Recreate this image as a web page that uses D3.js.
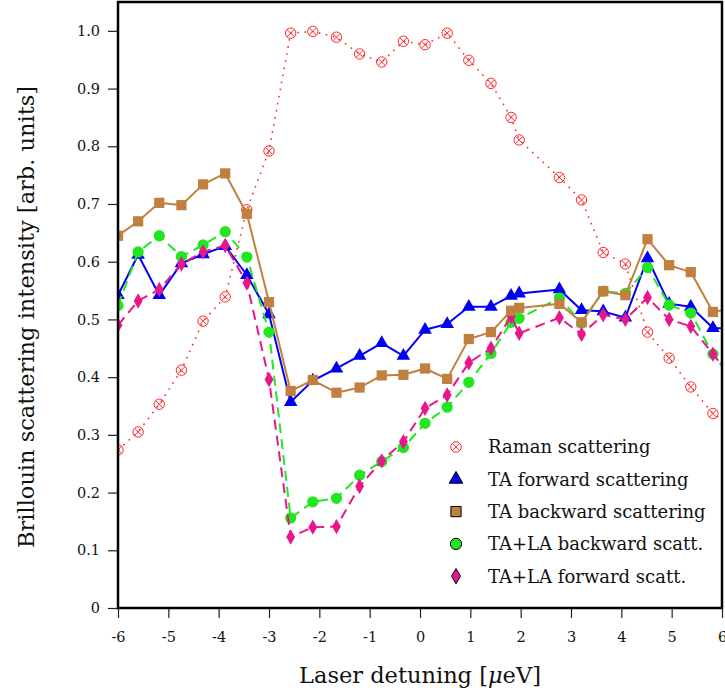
<!DOCTYPE html>
<html>
<head>
<meta charset="utf-8">
<script src="https://cdn.jsdelivr.net/npm/d3@7"></script>
<style>
  body { margin: 0; background: #fff; }
  svg { display: block; font-family: "DejaVu Serif", serif; }
</style>
</head>
<body>
<div id="vis-container"></div>
<script>
// laser detuning (ueV) for each measured point
var detuning = [-6.0, -5.6, -5.18, -4.74, -4.31, -3.87, -3.44, -3.0, -2.57, -2.13,
  -1.66, -1.2, -0.76, -0.33, 0.1, 0.54, 0.97, 1.41, 1.81, 1.97,
  2.77, 3.21, 3.64, 4.08, 4.52, 4.95, 5.38, 5.82, 6.25];

var raman = [0.274, 0.305, 0.353, 0.412, 0.497, 0.539, 0.690, 0.792, 0.996, 0.999,
  0.989, 0.960, 0.946, 0.982, 0.976, 0.996, 0.949, 0.909, 0.850, 0.811,
  0.746, 0.707, 0.616, 0.596, 0.478, 0.433, 0.383, 0.337, 0.31];

var taForward = [0.542, 0.612, 0.542, 0.597, 0.613, 0.627, 0.577, 0.509, 0.357, 0.394,
  0.415, 0.437, 0.459, 0.437, 0.482, 0.492, 0.522, 0.522, 0.541, 0.545,
  0.552, 0.516, 0.514, 0.503, 0.606, 0.527, 0.522, 0.485, 0.484];

var taBackward = [0.645, 0.670, 0.702, 0.698, 0.734, 0.753, 0.683, 0.530, 0.376, 0.395,
  0.373, 0.382, 0.403, 0.404, 0.415, 0.397, 0.466, 0.478, 0.515, 0.520,
  0.527, 0.495, 0.549, 0.542, 0.639, 0.594, 0.582, 0.513, 0.52];

var talaBackward = [0.524, 0.617, 0.645, 0.609, 0.629, 0.652, 0.608, 0.478, 0.156, 0.184,
  0.190, 0.230, 0.254, 0.278, 0.320, 0.348, 0.391, 0.441, 0.495, 0.502,
  0.537, 0.494, 0.549, 0.545, 0.590, 0.525, 0.511, 0.440, 0.39];

var talaForward = [0.490, 0.532, 0.552, 0.596, 0.617, 0.628, 0.563, 0.396, 0.123, 0.140,
  0.141, 0.211, 0.255, 0.288, 0.346, 0.369, 0.425, 0.450, 0.505, 0.476,
  0.503, 0.474, 0.508, 0.500, 0.538, 0.500, 0.488, 0.440, 0.393];

var xTicks = [-6, -5, -4, -3, -2, -1, 0, 1, 2, 3, 4, 5, 6];
var yTicks = [0, 0.1, 0.2, 0.3, 0.4, 0.5, 0.6, 0.7, 0.8, 0.9, 1.0];

// drawing order: raman, blue, green, pink, brown (brown sits on top)
var series = [
  { name: "Raman scattering", values: raman, color: "#ff2a2a", dash: "1.6 5.6", width: 1.6, marker: "otimes", legend: 0 },
  { name: "TA forward scattering", values: taForward, color: "#0000f5", dash: null, width: 2, marker: "triangle", legend: 1 },
  { name: "TA+LA backward scatt.", values: talaBackward, color: "#22e622", dash: "10 6", width: 2, marker: "circle", legend: 3 },
  { name: "TA+LA forward scatt.", values: talaForward, color: "#e8168c", dash: "10 6", width: 2, marker: "diamond", legend: 4 },
  { name: "TA backward scattering", values: taBackward, color: "#c1803f", dash: null, width: 2, marker: "square", legend: 2 }
];

var margin = { top: 2, right: 3, bottom: 88, left: 118 };
var width = 725 - margin.left - margin.right;
var height = 696 - margin.top - margin.bottom;

var svg = d3.select("#vis-container")
  .append("svg")
    .attr("width", 725)
    .attr("height", 696)
  .append("g")
    .attr("transform", "translate(" + margin.left + "," + margin.top + ")");

var xScale = d3.scaleLinear().domain([-6, 6]).range([0, width]);
var yScale = d3.scaleLinear().domain([0, 1.05]).range([height, 0]);

svg.append("clipPath").attr("id", "plot-clip")
  .append("rect").attr("width", width).attr("height", height);

// axes
var xAxis = d3.axisBottom(xScale).tickValues(xTicks).tickSize(10).tickPadding(14)
  .tickFormat(function(d) { return String(d); });
var yAxis = d3.axisLeft(yScale).tickValues(yTicks).tickSize(10).tickPadding(8)
  .tickFormat(function(d) { return d === 0 ? "0" : d3.format(".1f")(d); });

svg.append("g")
  .attr("class", "x axis")
  .attr("transform", "translate(0," + height + ")")
  .call(xAxis);

svg.append("g")
  .attr("class", "y axis")
  .call(yAxis);

svg.selectAll(".axis .domain").remove();
svg.selectAll(".axis line").attr("stroke", "#222").attr("stroke-width", 1.2);
svg.selectAll(".axis text")
  .attr("font-family", "DejaVu Serif, serif")
  .attr("font-size", 14.5)
  .attr("fill", "#111");

// marker shapes
var sym = {
  triangle: d3.symbol().type(d3.symbolTriangle).size(80),
  square: d3.symbol().type(d3.symbolSquare).size(105),
  circle: d3.symbol().type(d3.symbolCircle).size(100),
  diamond: d3.symbol().type(d3.symbolDiamond).size(68)
};

function drawMarker(g, s, x, y, outline) {
  if (s.marker === "otimes") {
    var m = g.append("g").attr("transform", "translate(" + x + "," + y + ")")
      .attr("stroke", s.color).attr("stroke-width", 1).attr("fill", "none");
    m.append("circle").attr("r", 5.2);
    m.append("path").attr("d", "M-3.6,-3.6L3.6,3.6M-3.6,3.6L3.6,-3.6");
  } else {
    g.append("path")
      .attr("d", sym[s.marker]())
      .attr("transform", "translate(" + x + "," + y + ")")
      .attr("fill", s.color)
      .attr("stroke", outline ? "#000" : "none")
      .attr("stroke-width", outline ? 1 : 0);
  }
}

var plot = svg.append("g").attr("clip-path", "url(#plot-clip)");

var line = d3.line()
  .x(function(d, i) { return xScale(detuning[i]); })
  .y(function(d) { return yScale(d); });

series.forEach(function(s) {
  var g = plot.append("g");
  g.append("path")
    .datum(s.values)
    .attr("d", line)
    .attr("fill", "none")
    .attr("stroke", s.color)
    .attr("stroke-width", s.width)
    .attr("stroke-dasharray", s.dash)
    .attr("stroke-linejoin", "round");
  s.values.forEach(function(v, i) {
    drawMarker(g, s, xScale(detuning[i]), yScale(v), false);
  });
});

// frame
svg.append("rect")
  .attr("width", width).attr("height", height)
  .attr("fill", "none").attr("stroke", "#000").attr("stroke-width", 2.5);

// legend
var legend = svg.append("g").attr("transform", "translate(338,445)");
series.forEach(function(s) {
  var y = s.legend * 32.3;
  drawMarker(legend, s, 0, y, true);
  legend.append("text")
    .attr("x", 32).attr("y", y).attr("dy", "0.35em")
    .attr("font-size", 18).attr("fill", "#111")
    .text(s.name);
});

// axis titles
var xt = svg.append("text")
  .attr("x", width / 2).attr("y", height + 75)
  .attr("text-anchor", "middle").attr("font-size", 22.5).attr("fill", "#111");
xt.append("tspan").text("Laser detuning [");
xt.append("tspan").attr("font-style", "italic").text("μ");
xt.append("tspan").text("eV]");

svg.append("text")
  .attr("transform", "translate(-84," + (height / 2 + 12) + ") rotate(-90)")
  .attr("text-anchor", "middle").attr("font-size", 22.5).attr("fill", "#111")
  .text("Brillouin scattering intensity [arb. units]");
</script>
</body>
</html>
